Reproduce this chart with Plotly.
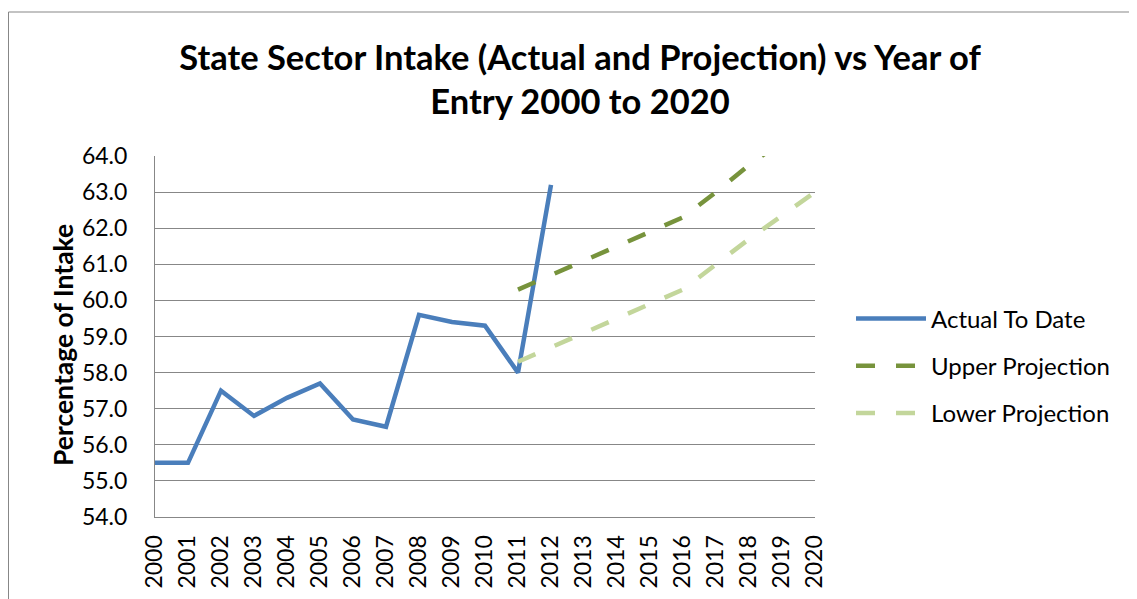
import plotly.graph_objects as go

years = [str(y) for y in range(2000, 2021)]
actual = [55.5, 55.5, 57.5, 56.8, 57.3, 57.7, 56.7, 56.5, 59.6, 59.4, 59.3, 58.0, 63.2]
upper = [60.3, 60.7, 61.1, 61.5, 61.9, 62.3, 63.0, 63.75, 64.4, 65.0]
lower = [58.3, 58.7, 59.1, 59.5, 59.9, 60.3, 61.0, 61.7, 62.35, 63.0]
y_ticks = [54.0, 55.0, 56.0, 57.0, 58.0, 59.0, 60.0, 61.0, 62.0, 63.0, 64.0]

W, H = 1137, 599
OFF = 8  # page body margin offset (screen px = figure px + OFF)
L, R, T, B = 155 - OFF, 815 - OFF, 156 - OFF, 517 - OFF

FONT = "Lato"


def fx(p):
    """figure pixel x -> paper x"""
    return (p - L) / (R - L)


def fy(p):
    """figure pixel y -> paper y"""
    return (B - p) / (B - T)


fig = go.Figure()
fig.add_trace(go.Scatter(x=years[:len(actual)], y=actual, mode="lines", name="Actual To Date",
                         legendgroup="a",
                         line=dict(color="#4A7EBB", width=4.5)))
fig.add_trace(go.Scatter(x=years[11:11 + len(upper)], y=upper, mode="lines", name="Upper Projection",
                         legendgroup="u",
                         line=dict(color="#77933C", width=4.5, dash="19px,21px")))
fig.add_trace(go.Scatter(x=years[11:11 + len(lower)], y=lower, mode="lines", name="Lower Projection",
                         legendgroup="l",
                         line=dict(color="#C3D69B", width=4.5, dash="19px,21px")))

# chart-area border
fig.add_shape(type="rect", xref="paper", yref="paper",
              x0=fx(0.5), x1=fx(1160), y0=fy(12 - OFF), y1=fy(640),
              line=dict(color="#878787", width=1), fillcolor="rgba(0,0,0,0)", layer="below")

# y-axis title
fig.add_annotation(text="<b>Percentage of Intake</b>", textangle=-90,
                   xref="paper", yref="paper", x=fx(63 - OFF), y=fy(345 - OFF),
                   xanchor="center", yanchor="middle", showarrow=False,
                   font=dict(family=FONT, size=26.5, color="black"))

fig.update_layout(
    width=W, height=H,
    margin=dict(l=L, r=W - R, t=T, b=H - B),
    paper_bgcolor="white", plot_bgcolor="white",
    font=dict(family=FONT, color="black"),
    title=dict(text="<b>State Sector Intake (Actual and Projection) vs Year of<br>Entry 2000 to 2020</b>",
               x=(580 - OFF) / W, xanchor="center", y=1 - (69.5 - OFF) / H, yanchor="middle",
               yref="container", xref="container",
               font=dict(family=FONT, size=34.5, color="black")),
    xaxis=dict(type="category", categoryorder="array", categoryarray=years,
               range=[0, 20], showgrid=False, showline=True, linecolor="#878787", linewidth=1,
               ticks="", tickangle=-90, tickfont=dict(family=FONT, size=23),
               ticklabelstandoff=8, zeroline=False),
    yaxis=dict(range=[54, 64], tickvals=y_ticks, ticktext=[f"{v:.1f}" for v in y_ticks],
               showgrid=True, gridcolor="#878787", gridwidth=1,
               showline=True, linecolor="#878787", linewidth=1, ticks="",
               tickfont=dict(family=FONT, size=23), ticklabelstandoff=22, zeroline=False),
    legend=dict(x=fx(843), xanchor="left", y=fy(366 - OFF), yanchor="middle",
                font=dict(family=FONT, size=24), itemwidth=70,
                tracegroupgap=13, bgcolor="rgba(0,0,0,0)"),
    showlegend=True,
)

fig.write_html("out.html")
